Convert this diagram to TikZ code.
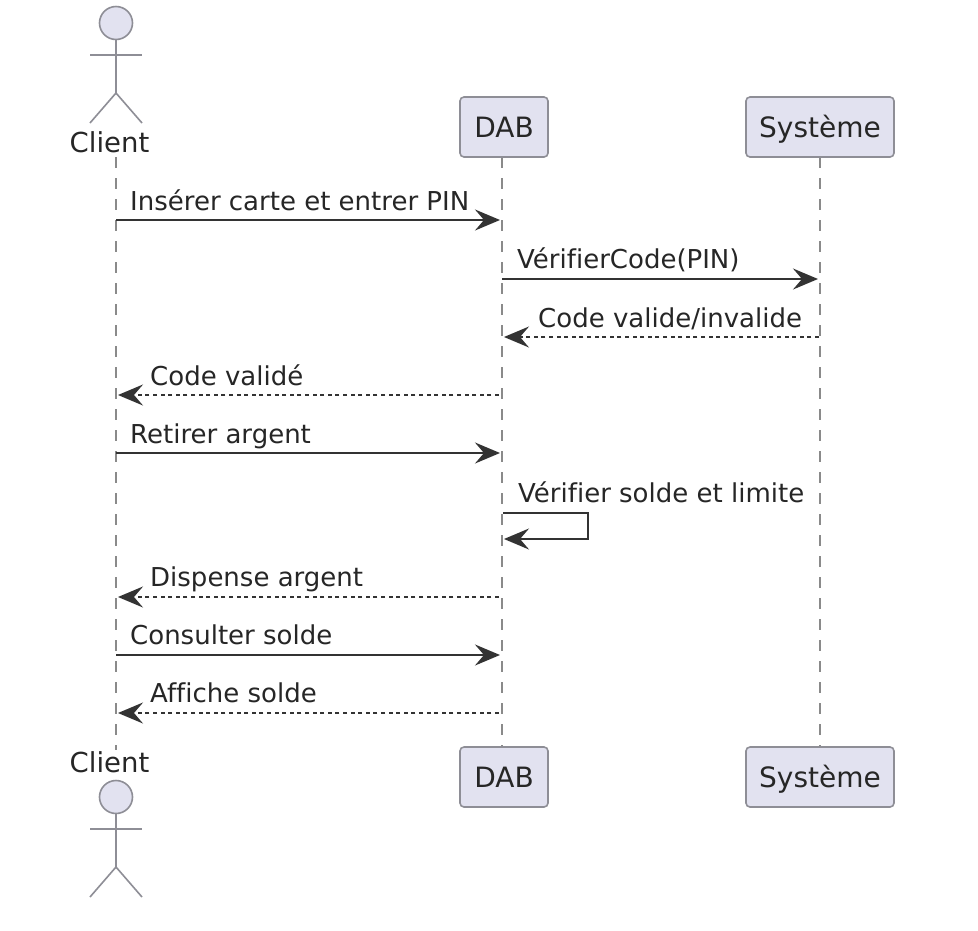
\documentclass[tikz,border=0pt]{standalone}
\usepackage{fontspec}
\setmainfont[Ligatures=CommonOff]{DejaVu Sans}
\usetikzlibrary{arrows.meta}
\definecolor{partfill}{HTML}{E2E2F0}
\definecolor{partline}{HTML}{8E8E96}
\definecolor{lifeline}{HTML}{8A8A8A}
\definecolor{msgline}{HTML}{333333}
\definecolor{txt}{HTML}{262626}
\tikzset{
  x=1pt,y=-1pt,
  every node/.style={text=txt,font=\fontsize{26}{30}\selectfont,inner sep=0pt},
  partbox/.style={draw=partline,fill=partfill,line width=1.6pt,rounded corners=4pt,minimum height=60pt,anchor=center,
    font=\fontsize{28}{32}\selectfont,text height=20pt,text depth=0pt},
  actorline/.style={draw=partline,line width=1.6pt},
  actorhead/.style={circle,draw=partline,fill=partfill,line width=1.6pt,minimum size=33pt},
  actorname/.style={font=\fontsize{27.5}{32}\selectfont},
  lifel/.style={draw=lifeline,line width=1.4pt,dash pattern=on 11pt off 10pt},
  msgtip/.style={-{Stealth[length=25pt,width=21pt,inset=9pt]}},
  sync/.style={draw=msgline,line width=2pt,msgtip},
  reply/.style={draw=msgline,line width=1.7pt,dash pattern=on 4pt off 3.6pt,msgtip},
  msg/.style={anchor=base west}
}
\begin{document}
\begin{tikzpicture}
\useasboundingbox (0,0) rectangle (978,930);
\fill[white] (0,0) rectangle (978,930);

% lifeline ends
\coordinate (cltop) at (116,157);
\coordinate (clbot) at (116,750);
\coordinate (dabt) at (502,157);
\coordinate (dabb) at (502,747);
\draw[lifel] (cltop) -- (clbot);
\draw[lifel] (dabt) -- (dabb);
\draw[lifel] (820,157) -- (820,747);
\node[partbox,minimum width=88pt] (dabtop) at (504,127) {DAB};
\node[partbox,minimum width=148pt] (systop) at (820,127) {Système};
\node[partbox,minimum width=88pt] (dabbot) at (504,777) {DAB};
\node[partbox,minimum width=148pt] (sysbot) at (820,777) {Système};

% top actor
\node[actorhead] (headt) at (116,23) {};
\coordinate (armtl) at (90,55); \coordinate (armtr) at (142,55);
\coordinate (hipt) at (116,93);
\coordinate (legtl) at (90,123); \coordinate (legtr) at (142,123);
\draw[actorline] (headt.south) -- (hipt);
\draw[actorline] (armtl) -- (armtr);
\draw[actorline] (legtl) -- (hipt) -- (legtr);
\node[actorname] (cltxt) at (109.5,142) {Client};

% bottom actor
\node[actorname] (clbtxt) at (109.5,762) {Client};
\node[actorhead] (headb) at (116,797) {};
\coordinate (armbl) at (90,829); \coordinate (armbr) at (142,829);
\coordinate (hipb) at (116,867);
\coordinate (legbl) at (90,897); \coordinate (legbr) at (142,897);
\draw[actorline] (headb.south) -- (hipb);
\draw[actorline] (armbl) -- (armbr);
\draw[actorline] (legbl) -- (hipb) -- (legbr);

% message end points
\coordinate (c1) at (116,220); \coordinate (d1) at (500,220);
\coordinate (d2) at (502,279); \coordinate (s2) at (818,279);
\coordinate (s3) at (819,337); \coordinate (d3) at (504,337);
\coordinate (d4) at (499,395); \coordinate (c4) at (118,395);
\coordinate (c5) at (116,453); \coordinate (d5) at (500,453);
\coordinate (d6a) at (503,513); \coordinate (r6a) at (588,513);
\coordinate (r6b) at (588,539); \coordinate (d6b) at (504,539);
\coordinate (d7) at (499,597); \coordinate (c7) at (118,597);
\coordinate (c8) at (116,655); \coordinate (d8) at (500,655);
\coordinate (d9) at (499,713); \coordinate (c9) at (118,713);

\draw[sync] (c1) -- (d1);
\draw[sync] (d2) -- (s2);
\draw[reply] (s3) -- (d3);
\draw[reply] (d4) -- (c4);
\draw[sync] (c5) -- (d5);
\draw[sync] (d6a) -- (r6a) -- (r6b) -- (d6b);
\draw[reply] (d7) -- (c7);
\draw[sync] (c8) -- (d8);
\draw[reply] (d9) -- (c9);

\node[msg] (m1) at (130,210) {Insérer carte et entrer PIN};
\node[msg] (m2) at (517,268) {VérifierCode(PIN)};
\node[msg] (m3) at (538,327) {Code valide/invalide};
\node[msg] (m4) at (150,385) {Code validé};
\node[msg] (m5) at (130,443) {Retirer argent};
\node[msg] (m6) at (518,502) {Vérifier solde et limite};
\node[msg] (m7) at (150,586) {Dispense argent};
\node[msg] (m8) at (130,644) {Consulter solde};
\node[msg] (m9) at (150,702) {Affiche solde};
\end{tikzpicture}
\end{document}
